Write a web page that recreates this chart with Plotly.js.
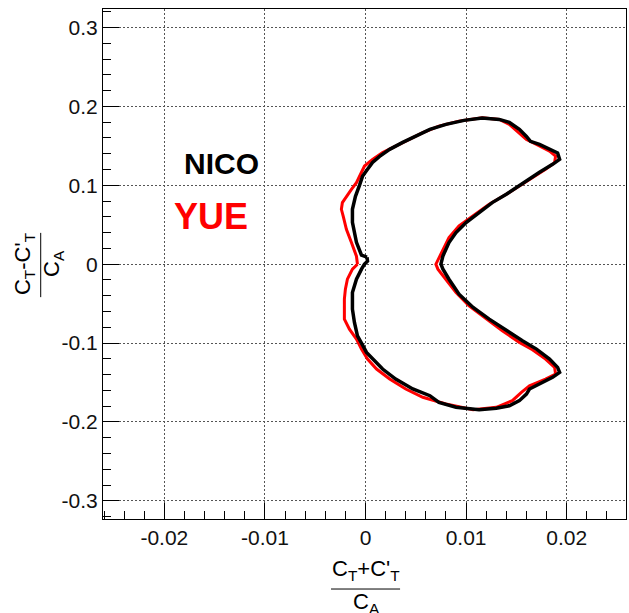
<!DOCTYPE html>
<html>
<head>
<meta charset="utf-8">
<script src="https://cdn.plot.ly/plotly-3.0.1.min.js"></script>
<style>html,body{margin:0;padding:0;background:#fff;}#chart{width:629px;height:613px;}</style>
</head>
<body>
<div id="chart"></div>
<script>
// NICO contour (black)
const nicoX = [0.00015,-0.0004,-0.0009,-0.0013,-0.0013,-0.0010,-0.0006,-0.0003,0.0002,0.0007,0.0014,0.0024,0.0037,0.0050,0.0064,0.0080,0.0098,0.0116,0.0133,0.0143,0.0153,0.0160,0.0164,0.0173,0.0183,0.0191,0.0193,0.0186,0.0173,0.0160,0.0150,0.0140,0.0126,0.0113,0.0100,0.0090,0.0083,0.0077,0.0075,0.0077,0.0083,0.0093,0.0107,0.0123,0.0140,0.0156,0.0170,0.0183,0.0191,0.0193,0.0186,0.0173,0.0163,0.0160,0.0153,0.0143,0.0130,0.0113,0.0090,0.0073,0.0064,0.0047,0.0030,0.0017,0.0007,0.0001,-0.0004,-0.0008,-0.0011,-0.0013,-0.0013,-0.0009,-0.0004,-0.0001,0.0002,0.00015];
const nicoY = [0.0089,0.0114,0.0278,0.0532,0.0696,0.0861,0.1000,0.1114,0.1203,0.1291,0.1367,0.1456,0.1544,0.1620,0.1709,0.1772,0.1823,0.1854,0.1835,0.1797,0.1709,0.1620,0.1557,0.1519,0.1456,0.1411,0.1329,0.1266,0.1165,0.1054,0.0971,0.0886,0.0781,0.0654,0.0528,0.0401,0.0275,0.0105,0.0,-0.0063,-0.0190,-0.0380,-0.0548,-0.0696,-0.0844,-0.0971,-0.1076,-0.1203,-0.1308,-0.1371,-0.1434,-0.1519,-0.1582,-0.1646,-0.1730,-0.1794,-0.1827,-0.1844,-0.1814,-0.1751,-0.1667,-0.1582,-0.1456,-0.1329,-0.1203,-0.1118,-0.1000,-0.0908,-0.0738,-0.0570,-0.0358,-0.0190,-0.0063,0.0,0.0038,0.0089];
// YUE contour (red)
const yueX = [-0.0008,-0.0009,-0.0014,-0.0019,-0.0022,-0.0024,-0.0023,-0.0019,-0.0014,-0.0009,-0.0006,-0.0001,0.0007,0.0017,0.0030,0.0044,0.0057,0.0073,0.0093,0.0116,0.0133,0.0143,0.0153,0.0160,0.0170,0.0183,0.0189,0.0188,0.0179,0.0166,0.0153,0.0140,0.0123,0.0107,0.0093,0.0083,0.0077,0.0072,0.0070,0.0072,0.0080,0.0090,0.0103,0.0120,0.0136,0.0153,0.0166,0.0179,0.0188,0.0189,0.0179,0.0163,0.0155,0.0146,0.0130,0.0107,0.0080,0.0057,0.0040,0.0024,0.0011,0.0002,-0.0004,-0.0009,-0.0016,-0.0021,-0.0021,-0.0020,-0.0018,-0.0013,-0.0008];
const yueY = [0.0,0.0101,0.0275,0.0443,0.0600,0.0696,0.0780,0.0860,0.0949,0.1034,0.1118,0.1244,0.1329,0.1414,0.1497,0.1582,0.1667,0.1751,0.1814,0.1857,0.1835,0.1772,0.1667,0.1582,0.1519,0.1434,0.1371,0.1287,0.1203,0.1097,0.0991,0.0886,0.0759,0.0611,0.0485,0.0338,0.0190,0.0063,0.0,-0.0063,-0.0190,-0.0358,-0.0528,-0.0696,-0.0844,-0.0991,-0.1085,-0.1203,-0.1308,-0.1392,-0.1456,-0.1541,-0.1624,-0.1730,-0.1814,-0.1844,-0.1772,-0.1687,-0.1582,-0.1456,-0.1329,-0.1203,-0.1076,-0.0949,-0.0823,-0.0696,-0.0443,-0.0316,-0.0190,-0.0063,0.0];
const xTickVals = [-0.02,-0.01,0,0.01,0.02];
const xTickText = ["-0.02","-0.01","0","0.01","0.02"];
const yTickVals = [-0.3,-0.2,-0.1,0,0.1,0.2,0.3];
const yTickText = ["-0.3","-0.2","-0.1","0","0.1","0.2","0.3"];
const legendNames = ["NICO","YUE"];

const FONT = '"Liberation Sans", Arial, sans-serif';

const traces = [
  {x: yueX, y: yueY, type: 'scatter', mode: 'lines', name: legendNames[1],
   line: {color: '#ff0000', width: 3}, hoverinfo: 'skip'},
  {x: nicoX, y: nicoY, type: 'scatter', mode: 'lines', name: legendNames[0],
   line: {color: '#000000', width: 3.5}, hoverinfo: 'skip'}
];

const axisCommon = {
  showline: true, linecolor: '#000', linewidth: 1, mirror: true,
  ticks: 'inside', ticklen: 16, tickwidth: 1, tickcolor: '#000',
  showgrid: true, gridcolor: '#555', gridwidth: 1, griddash: '2px,2px',
  zeroline: false, tickfont: {family: FONT, size: 21, color: '#111'},
  tickmode: 'array'
};

const layout = {
  width: 629, height: 613,
  margin: {l: 103, r: 3, t: 9, b: 94},
  paper_bgcolor: '#fff', plot_bgcolor: '#fff',
  showlegend: false,
  xaxis: Object.assign({}, axisCommon, {
    range: [-0.0261, 0.0259], tickvals: xTickVals, ticktext: xTickText,
    minor: {ticks: 'inside', ticklen: 8, dtick: 0.002, tickcolor: '#000', showgrid: false}
  }),
  yaxis: Object.assign({}, axisCommon, {
    range: [-0.323, 0.3235], tickvals: yTickVals, ticktext: yTickText,
    minor: {ticks: 'inside', ticklen: 8, dtick: 0.02, tickcolor: '#000', showgrid: false}
  }),
  shapes: [
    {type: 'rect', xref: 'paper', yref: 'paper', x0: 0.0937, x1: 0.3958, y0: 0.531, y1: 0.659,
     fillcolor: '#fff', line: {width: 0}, layer: 'between'},
    {type: 'line', xref: 'paper', yref: 'paper', x0: 0.436, x1: 0.568, y0: -0.1373, y1: -0.1373,
     line: {color: '#000', width: 1}},
    {type: 'line', xref: 'paper', yref: 'paper', x0: -0.1191, x1: -0.1191, y0: 0.435, y1: 0.561,
     line: {color: '#000', width: 1}}
  ],
  annotations: [
    {x: -0.01433, y: 0.1278, xref: 'x', yref: 'y', text: '<b>' + legendNames[0] + '</b>', showarrow: false,
     font: {family: FONT, size: 30, color: '#000'}, xanchor: 'center', yanchor: 'middle'},
    {x: -0.01532, y: 0.0611, xref: 'x', yref: 'y', text: '<b>' + legendNames[1] + '</b>', showarrow: false,
     font: {family: FONT, size: 36, color: '#ff0000'}, xanchor: 'center', yanchor: 'middle'},
    {x: 0.5029, y: -0.1, xref: 'paper', yref: 'paper', text: "C<sub>T</sub>+C'<sub>T</sub>", showarrow: false,
     font: {family: FONT, size: 22, color: '#000'}, xanchor: 'center', yanchor: 'middle'},
    {x: 0.5029, y: -0.1647, xref: 'paper', yref: 'paper', text: "C<sub>A</sub>", showarrow: false,
     font: {family: FONT, size: 22, color: '#000'}, xanchor: 'center', yanchor: 'middle'},
    {x: -0.151, y: 0.5, xref: 'paper', yref: 'paper', text: "C<sub>T</sub>-C'<sub>T</sub>", showarrow: false,
     font: {family: FONT, size: 22, color: '#000'}, textangle: -90, xanchor: 'center', yanchor: 'middle'},
    {x: -0.0956, y: 0.5, xref: 'paper', yref: 'paper', text: "C<sub>A</sub>", showarrow: false,
     font: {family: FONT, size: 22, color: '#000'}, textangle: -90, xanchor: 'center', yanchor: 'middle'}
  ]
};

Plotly.newPlot('chart', traces, layout, {displayModeBar: false, staticPlot: true});
</script>
</body>
</html>
